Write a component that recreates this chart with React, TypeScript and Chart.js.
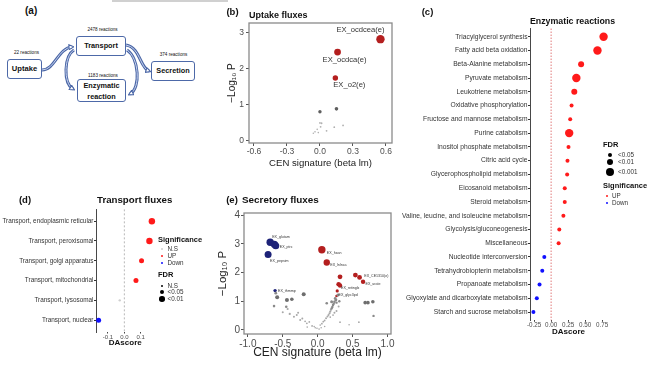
import React, { useEffect, useRef } from "react";
import { Chart, registerables } from "chart.js";
Chart.register(...registerables);

const FONT = '"Liberation Sans", Arial, Helvetica, sans-serif';

// ---------- (b) Uptake fluxes ----------
const uptakeSigNames = ["EX_ocdcea(e)", "EX_ocdca(e)", "EX_o2(e)"];
const uptakeSigBeta = [0.55, 0.16, 0.14];
const uptakeSigLogP = [2.82, 2.46, 1.74];
const uptakeSigSize = [4.2, 3.4, 2.7];
const uptakeNsBeta = [0.0, 0.15, 0.0, 0.015, 0.006, 0.06, 0.13, 0.21, -0.025, -0.045, -0.015, -0.06];
const uptakeNsLogP = [0.8, 0.88, 0.49, 0.48, 0.38, 0.27, 0.37, 0.42, 0.31, 0.24, 0.22, 0.2];
const uptakeNsSize = [1.7, 1.8, 0.9, 0.9, 0.9, 0.9, 0.9, 0.9, 0.8, 0.8, 0.8, 0.8];
const uptakeTicksX = [-0.6, -0.3, 0, 0.3, 0.6];
const uptakeTicksY = [0, 1, 2, 3];

// ---------- (c) Enzymatic reactions ----------
const enzPathways = [
  "Triacylglycerol synthesis",
  "Fatty acid beta oxidation",
  "Beta-Alanine metabolism",
  "Pyruvate metabolism",
  "Leukotriene metabolism",
  "Oxidative phosphorylation",
  "Fructose and mannose metabolism",
  "Purine catabolism",
  "Inositol phosphate metabolism",
  "Citric acid cycle",
  "Glycerophospholipid metabolism",
  "Eicosanoid metabolism",
  "Steroid metabolism",
  "Valine, leucine, and isoleucine metabolism",
  "Glycolysis/gluconeogenesis",
  "Miscellaneous",
  "Nucleotide interconversion",
  "Tetrahydrobiopterin metabolism",
  "Propanoate metabolism",
  "Glyoxylate and dicarboxylate metabolism",
  "Starch and sucrose metabolism",
];
const enzDAscore = [0.77, 0.68, 0.44, 0.37, 0.34, 0.3, 0.28, 0.265, 0.255, 0.24, 0.235, 0.2, 0.2, 0.18, 0.12, 0.11, -0.1, -0.13, -0.17, -0.21, -0.26];
const enzFDR = ["<0.001", "<0.001", "<0.01", "<0.001", "<0.01", "<0.05", "<0.05", "<0.001", "<0.05", "<0.05", "<0.05", "<0.05", "<0.05", "<0.05", "<0.05", "<0.05", "<0.05", "<0.05", "<0.05", "<0.05", "<0.05"];
const enzSignificance = ["UP", "UP", "UP", "UP", "UP", "UP", "UP", "UP", "UP", "UP", "UP", "UP", "UP", "UP", "UP", "UP", "Down", "Down", "Down", "Down", "Down"];
const enzTicksX = [-0.25, 0, 0.25, 0.5, 0.75];
const enzFdrLevels = ["<0.05", "<0.01", "<0.001"];
const enzSigLevels = ["UP", "Down"];

// ---------- (d) Transport fluxes ----------
const transportNames = [
  "Transport, endoplasmic reticular",
  "Transport, peroxisomal",
  "Transport, golgi apparatus",
  "Transport, mitochondrial",
  "Transport, lysosomal",
  "Transport, nuclear",
];
const transportDAscore = [0.168, 0.153, 0.105, 0.071, -0.028, -0.157];
const transportSignificance = ["UP", "UP", "UP", "UP", "N.S", "Down"];
const transportFDR = ["<0.01", "<0.01", "<0.05", "<0.05", "N.S", "<0.05"];
const transportTicksX = [-0.1, 0, 0.1];
const transportSigLevels = ["N.S", "UP", "Down"];
const transportFdrLevels = ["N.S", "<0.05", "<0.01"];

// ---------- (e) Secretory fluxes ----------
const secDownNames = ["EX_glutam", "", "EX_ptrc", "EX_pepsim", "EX_thmmp"];
const secDownBeta = [-0.68, -0.62, -0.6, -0.71, -0.61];
const secDownLogP = [3.05, 2.98, 2.93, 2.63, 1.37];
const secDownSize = [3.7, 3.7, 3.5, 3.5, 1.7];
const secUpNames = ["EX_hxan", "EX_lnlnca", "", "", "EX_CE1310(e)", "EX_urate", "", "EX_retinglx", "", "EX_glyc3pd"];
const secUpBeta = [0.06, 0.13, 0.32, 0.54, 0.6, 0.65, 0.3, 0.32, 0.28, 0.27];
const secUpLogP = [2.79, 2.35, 1.85, 1.91, 1.83, 1.68, 1.59, 1.55, 1.36, 1.18];
const secUpSize = [3.7, 3.2, 2.4, 2.4, 2.4, 2.2, 2.3, 2.2, 1.6, 1.3];
const secNsBeta = [-0.58, -0.44, -0.37, -0.2, 0.68, 0.72, 0.79, -0.625, -0.45, 0.13, 0.2, 0.8, -0.6, 0.26, 0.29, -0.43, -0.4, -0.34, -0.3, -0.25, -0.22, -0.155, -0.12, -0.08, -0.05, -0.035, -0.01, -0.28, -0.5, 0.036, 0.06, 0.08, 0.1, 0.12, 0.14, 0.155, 0.17, 0.18, 0.19, 0.2, 0.21, 0.22, 0.23, 0.24, 0.25, 0.27, 0.24, 0.3, 0.18, 0.22, 0.32, 0.59, 0.45, 0.05, 0.02, 0.1, -0.15, 0.27, 0.31, -0.18];
const secNsLogP = [1.14, 1.04, 1.07, 1.24, 0.95, 0.95, 0.98, 0.83, 0.81, 0.93, 0.98, 0.49, 1.28, 1.05, 1.22, 0.73, 0.56, 0.46, 0.52, 0.35, 0.4, 0.23, 0.28, 0.14, 0.12, 0.08, 0.06, 0.6, 0.62, 0.17, 0.22, 0.29, 0.33, 0.41, 0.47, 0.52, 0.58, 0.64, 0.7, 0.75, 0.8, 0.87, 0.91, 0.98, 1.1, 0.66, 0.6, 0.82, 0.45, 0.52, 0.27, 0.27, 0.18, 0.08, 0.03, 0.12, 0.1, 0.95, 1.0, 0.3];
const secNsSize = [2.0, 2.0, 1.8, 2.0, 1.8, 1.8, 1.8, 1.3, 1.3, 1.3, 1.5, 1.2, 1.4, 1.5, 1.5, 1.1, 1.1, 1.0, 1.0, 1.0, 1.0, 0.9, 0.9, 0.9, 0.8, 0.8, 0.8, 1.0, 1.0, 0.8, 0.9, 0.9, 0.9, 1.0, 1.0, 1.0, 1.1, 1.1, 1.1, 1.2, 1.2, 1.2, 1.2, 1.3, 1.3, 1.0, 1.0, 1.0, 0.9, 0.9, 0.9, 0.9, 0.8, 0.8, 0.8, 0.8, 0.8, 1.2, 1.2, 0.9];
const secTicksX = [-1, -0.5, 0, 0.5, 1];
const secTicksY = [0, 1, 2, 3, 4];

// ---------- styles ----------
const uptakeLabelOffset = [[-20, -9], [7, 8], [14, 7]];
const secDownLabelOffset = [[2, -5.6], [0, 0], [4, 1], [2, 7], [3, 0]];
const secUpLabelOffset = [[5, 3], [3.5, 2.5], [0, 0], [0, 0], [4.7, -1], [2.5, 2.5], [0, 0], [1, 2.4], [0, 0], [2, -1]];
const sigColor: Record<string, string> = { UP: "#ff1a1a", Down: "#1010ff", "N.S": "#cfcfcf" };
const enzRadius: Record<string, number> = { "<0.05": 2, "<0.01": 3, "<0.001": 4.2 };
const trRadius: Record<string, number> = { "N.S": 1.2, "<0.05": 2.5, "<0.01": 3.2 };

const framePlugin = {
  id: "frame",
  afterDraw(chart: any, _a: any, opts: any) {
    if (!opts || !opts.color) return;
    const { left, top, right, bottom } = chart.chartArea;
    const ctx = chart.ctx;
    ctx.save();
    ctx.strokeStyle = opts.color;
    ctx.lineWidth = opts.width || 1;
    ctx.strokeRect(left, top, right - left, bottom - top);
    ctx.restore();
  },
};

const zeroLinePlugin = {
  id: "zeroLine",
  beforeDatasetsDraw(chart: any, _a: any, opts: any) {
    if (!opts || !opts.color) return;
    const x = chart.scales.x.getPixelForValue(0);
    const { top, bottom } = chart.chartArea;
    const ctx = chart.ctx;
    ctx.save();
    ctx.strokeStyle = opts.color;
    ctx.lineWidth = opts.width || 1;
    ctx.setLineDash(opts.dash || [2, 2]);
    ctx.beginPath();
    ctx.moveTo(x, top);
    ctx.lineTo(x, bottom);
    ctx.stroke();
    ctx.restore();
  },
};

const pointLabelPlugin = {
  id: "pointLabels",
  afterDatasetsDraw(chart: any) {
    const ctx = chart.ctx;
    chart.data.datasets.forEach((ds: any, i: number) => {
      const lab = ds.pointLabels;
      if (!lab) return;
      const meta = chart.getDatasetMeta(i);
      ctx.save();
      ctx.font = lab.font;
      ctx.fillStyle = lab.color;
      ctx.textAlign = lab.align;
      ctx.textBaseline = "middle";
      meta.data.forEach((el: any, j: number) => {
        const t = lab.text[j];
        if (!t) return;
        const o = lab.offsets[j];
        ctx.fillText(t, el.x + o[0], el.y + o[1]);
      });
      ctx.restore();
    });
  },
};

const base = (pad: any) => ({
  responsive: false,
  animation: false as const,
  devicePixelRatio: 1,
  layout: { padding: pad },
});

const setTicks = (vals: number[]) => (s: any) => {
  s.ticks = vals.map((v) => ({ value: v }));
};

function volcanoAxes(o: any) {
  return {
    x: {
      type: "linear",
      min: o.xmin,
      max: o.xmax,
      afterFit: (s: any) => { s.height = o.xH; },
      afterBuildTicks: setTicks(o.xt),
      ticks: { callback: (v: any) => Number(v).toFixed(1), font: { family: FONT, size: o.tick }, color: "#4d4d4d", padding: 1, autoSkip: false, maxRotation: 0 },
      grid: { display: true, drawOnChartArea: false, drawTicks: true, tickLength: 3, color: "#555" },
      border: { display: false },
      title: { display: true, text: "CEN signature (beta lm)", font: { family: FONT, size: o.xtitle }, color: "#222", padding: { top: 0, bottom: o.xtpad } },
    },
    y: {
      type: "linear",
      min: o.ymin,
      max: o.ymax,
      afterFit: (s: any) => { s.width = o.yW; },
      afterBuildTicks: setTicks(o.yt),
      ticks: { callback: (v: any) => String(v), font: { family: FONT, size: o.tick }, color: "#4d4d4d", padding: o.ypad, autoSkip: false },
      grid: { display: true, drawOnChartArea: false, drawTicks: true, tickLength: 3, color: "#555" },
      border: { display: false },
      title: { display: true, text: "\u2212Log\u2081\u2080 P", font: { family: FONT, size: o.ytitle }, color: "#222", padding: { top: o.ytpad, bottom: 0 } },
    },
  };
}

function dotAxes(o: any) {
  return {
    x: {
      type: "linear",
      min: o.xmin,
      max: o.xmax,
      afterFit: (s: any) => { s.height = o.xH; },
      afterBuildTicks: setTicks(o.xt),
      ticks: { callback: (v: any) => Number(v).toFixed(o.dec), font: { family: FONT, size: o.xtick }, color: "#4d4d4d", padding: 0, autoSkip: false, maxRotation: 0 },
      grid: { display: true, drawOnChartArea: false, drawTicks: true, tickLength: 1.5, color: "#444" },
      border: { display: false },
      title: { display: true, text: "DAscore", font: { family: FONT, size: 8, weight: "bold" }, color: "#111", padding: { top: 0, bottom: o.xtpad } },
    },
    y: {
      type: "linear",
      reverse: true,
      min: -0.6,
      max: o.cats.length - 0.4,
      afterFit: (s: any) => { s.width = o.yW; },
      afterBuildTicks: setTicks(o.cats.map((_: any, i: number) => i)),
      ticks: { callback: (_v: any, i: number) => o.cats[i], font: { family: FONT, size: o.ytick }, color: "#333", padding: 0.5, autoSkip: false },
      grid: { display: true, drawOnChartArea: false, drawTicks: true, tickLength: 2, color: "#333" },
      border: { display: true, color: "#333", width: 0.9 },
    },
  };
}

const noLegend = { legend: { display: false }, tooltip: { enabled: false } };

const Txt = (p: any) => (
  <div
    style={{
      position: "absolute",
      left: p.x,
      top: p.y,
      fontSize: p.s,
      fontWeight: p.b ? "bold" : "normal",
      color: p.c || "#111",
      whiteSpace: "nowrap",
      lineHeight: 1,
      fontFamily: FONT,
      transform: p.center ? "translate(-50%,-50%)" : "translateY(-50%)",
    }}
  >
    {p.children}
  </div>
);

const Dot = (p: any) => (
  <div
    style={{
      position: "absolute",
      left: p.x - p.r,
      top: p.y - p.r,
      width: p.r * 2,
      height: p.r * 2,
      borderRadius: "50%",
      background: p.c,
    }}
  />
);

const Box = (p: any) => (
  <div
    style={{
      position: "absolute",
      left: p.x,
      top: p.y,
      width: p.w,
      height: p.h,
      border: "1.2px solid #4d69a8",
      borderRadius: 3,
      background: "#fff",
      boxSizing: "border-box",
    }}
  />
);

const arrowPaths = [
  "M42,70 C55,70 58,48 72,47",
  "M74,50 C64,56 63,83 73,89",
  "M126,45 C140,47 140,68 149,71",
  "M127,50 C139,58 141,88 130,94",
];

export default function App() {
  const bRef = useRef<HTMLCanvasElement>(null);
  const cRef = useRef<HTMLCanvasElement>(null);
  const dRef = useRef<HTMLCanvasElement>(null);
  const eRef = useRef<HTMLCanvasElement>(null);

  useEffect(() => {
    const charts: Chart[] = [];

    charts.push(
      new Chart(bRef.current as HTMLCanvasElement, {
        type: "scatter",
        data: {
          datasets: [
            {
              data: uptakeNsBeta.map((x, i) => ({ x, y: uptakeNsLogP[i] })),
              pointRadius: uptakeNsSize,
              pointBackgroundColor: uptakeNsSize.map((r) => (r > 1.5 ? "#5f5f5f" : "#b0b0b0")),
              pointBorderWidth: 0,
              clip: false,
            } as any,
            {
              data: uptakeSigBeta.map((x, i) => ({ x, y: uptakeSigLogP[i] })),
              pointRadius: uptakeSigSize,
              pointBackgroundColor: "#b41f1f",
              pointBorderWidth: 0,
              clip: false,
              pointLabels: { text: uptakeSigNames, offsets: uptakeLabelOffset, font: `7.6px ${FONT}`, color: "#333", align: "center" },
            } as any,
          ],
        },
        options: {
          ...base({ top: 23, right: 6, left: 0, bottom: 0 }),
          plugins: { ...noLegend, frame: { color: "#8a8a8a", width: 1.3 } } as any,
          scales: volcanoAxes({ xmin: -0.645, xmax: 0.655, ymin: -0.07, ymax: 3.27, xt: uptakeTicksX, yt: uptakeTicksY, xH: 29, yW: 25, tick: 8.5, xtitle: 9.6, xtpad: 3, ytitle: 10, ytpad: 2, ypad: 2 }) as any,
        },
        plugins: [framePlugin, pointLabelPlugin],
      } as any)
    );

    charts.push(
      new Chart(cRef.current as HTMLCanvasElement, {
        type: "scatter",
        data: {
          datasets: [
            {
              data: enzDAscore.map((x, i) => ({ x, y: i })),
              pointRadius: enzFDR.map((f) => enzRadius[f]),
              pointBackgroundColor: enzSignificance.map((s) => sigColor[s]),
              pointBorderWidth: 0,
              clip: false,
            } as any,
          ],
        },
        options: {
          ...base({ top: 2.7, right: 5, left: 0, bottom: 0 }),
          plugins: { ...noLegend, zeroLine: { color: "#e07a7a", width: 1, dash: [1.5, 1.5] } } as any,
          scales: dotAxes({ xmin: -0.31, xmax: 0.82, xt: enzTicksX, dec: 2, xH: 19.7, yW: 140, xtick: 6.3, ytick: 6.7, xtpad: 3.2, cats: enzPathways }) as any,
        },
        plugins: [zeroLinePlugin],
      } as any)
    );

    charts.push(
      new Chart(dRef.current as HTMLCanvasElement, {
        type: "scatter",
        data: {
          datasets: [
            {
              data: transportDAscore.map((x, i) => ({ x, y: i })),
              pointRadius: transportFDR.map((f) => trRadius[f]),
              pointBackgroundColor: transportSignificance.map((s) => sigColor[s]),
              pointBorderWidth: 0,
              clip: false,
            } as any,
          ],
        },
        options: {
          ...base({ top: 1.8, right: 5.5, left: 0, bottom: 0 }),
          plugins: { ...noLegend, zeroLine: { color: "#b8b8b8", width: 1, dash: [2, 2] } } as any,
          scales: dotAxes({ xmin: -0.173, xmax: 0.184, xt: transportTicksX, dec: 1, xH: 19, yW: 96, xtick: 6, ytick: 6.4, xtpad: 3.2, cats: transportNames }) as any,
        },
        plugins: [zeroLinePlugin],
      } as any)
    );

    charts.push(
      new Chart(eRef.current as HTMLCanvasElement, {
        type: "scatter",
        data: {
          datasets: [
            {
              data: secNsBeta.map((x, i) => ({ x, y: secNsLogP[i] })),
              pointRadius: secNsSize,
              pointBackgroundColor: secNsSize.map((r) => (r >= 1.8 ? "#6e6e6e" : r >= 1.2 ? "#8a8a8a" : "#a8a8a8")),
              pointBorderWidth: 0,
              clip: false,
            } as any,
            {
              data: secDownBeta.map((x, i) => ({ x, y: secDownLogP[i] })),
              pointRadius: secDownSize,
              pointBackgroundColor: "#1d2278",
              pointBorderWidth: 0,
              clip: false,
              pointLabels: { text: secDownNames, offsets: secDownLabelOffset, font: `3.6px ${FONT}`, color: "#333", align: "left" },
            } as any,
            {
              data: secUpBeta.map((x, i) => ({ x, y: secUpLogP[i] })),
              pointRadius: secUpSize,
              pointBackgroundColor: "#b41f1f",
              pointBorderWidth: 0,
              clip: false,
              pointLabels: { text: secUpNames, offsets: secUpLabelOffset, font: `3.6px ${FONT}`, color: "#333", align: "left" },
            } as any,
          ],
        },
        options: {
          ...base({ top: 8, right: 9, left: 0, bottom: 0 }),
          plugins: { ...noLegend, frame: { color: "#8a8a8a", width: 1.3 } } as any,
          scales: volcanoAxes({ xmin: -1.055, xmax: 1.05, ymin: -0.14, ymax: 4.07, xt: secTicksX, yt: secTicksY, xH: 31, yW: 44, tick: 10, xtitle: 12, xtpad: 5, ytitle: 11.5, ytpad: 16, ypad: 1 }) as any,
        },
        plugins: [framePlugin, pointLabelPlugin],
      } as any)
    );

    return () => charts.forEach((c) => c.destroy());
  }, []);

  const cv = (ref: any, x: number, y: number, w: number, h: number) => (
    <canvas ref={ref} width={w} height={h} style={{ position: "absolute", left: x, top: y, width: w, height: h, display: "block" }} />
  );

  return (
    <div style={{ position: "fixed", left: 0, top: 0, width: 650, height: 365, background: "#fff", overflow: "hidden", fontFamily: FONT }}>
      <div style={{ position: "absolute", left: 112, top: 0, width: 116, height: 1.5, background: "#d0d0d0" }} />

      {/* (a) diagram */}
      <svg width={200} height={110} style={{ position: "absolute", left: 0, top: 0 }}>
        <defs>
          <marker id="ah" viewBox="0 0 10 10" refX="6" refY="5" markerUnits="userSpaceOnUse" markerWidth="6" markerHeight="6" orient="auto">
            <path d="M1,1 L9,5 L1,9 z" fill="#ffffff" stroke="#4a66a6" strokeWidth="1.8" />
          </marker>
        </defs>
        {arrowPaths.map((d, i) => (
          <g key={i}>
            <path d={d} stroke="#4a66a6" strokeWidth={3} fill="none" />
            <path d={d} stroke="#c9d4ef" strokeWidth={1} fill="none" markerEnd="url(#ah)" />
          </g>
        ))}
      </svg>
      <Box x={7} y={59} w={35} h={20} />
      <Box x={76} y={36} w={50} h={20} />
      <Box x={151} y={61} w={44} h={20} />
      <Box x={77} y={79} w={49} h={23} />
      <Txt x={25} y={11} s={10} b>(a)</Txt>
      <Txt x={24.5} y={69} s={7.6} b center>Uptake</Txt>
      <Txt x={101} y={46} s={7.3} b center>Transport</Txt>
      <Txt x={173} y={71} s={7.3} b center>Secretion</Txt>
      <Txt x={101.5} y={85.5} s={7.3} b center>Enzymatic</Txt>
      <Txt x={101.5} y={96.5} s={7.3} b center>reaction</Txt>
      <Txt x={26.5} y={53} s={4.6} center>22 reactions</Txt>
      <Txt x={102.5} y={30} s={4.6} center>2478 reactions</Txt>
      <Txt x={173.5} y={55} s={4.6} center>374 reactions</Txt>
      <Txt x={103} y={76} s={4.6} center>1183 reactions</Txt>

      {/* (b) */}
      {cv(bRef, 224, 0, 174, 172)}
      <Txt x={232.5} y={12} s={9.5} b center>(b)</Txt>
      <Txt x={249} y={15} s={9} b>Uptake fluxes</Txt>

      {/* (c) */}
      {cv(cRef, 390, 24, 222, 316)}
      <Txt x={427.5} y={12} s={9.5} b center>(c)</Txt>
      <Txt x={572.5} y={21} s={8.8} b center>Enzymatic reactions</Txt>
      <Txt x={603} y={145} s={7.5} b>FDR</Txt>
      {enzFdrLevels.map((f, i) => (
        <React.Fragment key={f}>
          <Dot x={610} y={[155, 162, 172][i]} r={enzRadius[f]} c="#000" />
          <Txt x={618} y={[155, 162, 172][i]} s={6.3} c="#333">{f}</Txt>
        </React.Fragment>
      ))}
      <Txt x={603} y={186} s={7.5} b>Significance</Txt>
      {enzSigLevels.map((s, i) => (
        <React.Fragment key={s}>
          <Dot x={607} y={196 + i * 7} r={1} c={sigColor[s]} />
          <Txt x={612} y={196 + i * 7} s={6.3} c="#333">{s}</Txt>
        </React.Fragment>
      ))}

      {/* (d) */}
      {cv(dRef, 0, 205, 160, 146)}
      <Txt x={25} y={200} s={9.5} b center>(d)</Txt>
      <Txt x={97} y={200} s={9.7} b>Transport fluxes</Txt>
      <Txt x={158} y={240} s={7.5} b>Significance</Txt>
      {transportSigLevels.map((s, i) => (
        <React.Fragment key={s}>
          <Dot x={162} y={249 + i * 7} r={1} c={sigColor[s]} />
          <Txt x={167.5} y={249 + i * 7} s={6.3} c="#333">{s}</Txt>
        </React.Fragment>
      ))}
      <Txt x={158} y={275} s={7.5} b>FDR</Txt>
      {transportFdrLevels.map((f, i) => (
        <React.Fragment key={f}>
          <Dot x={162} y={[285.5, 292, 299][i]} r={[1, 2, 2.8][i]} c="#000" />
          <Txt x={167.5} y={[285.5, 292, 299][i]} s={6.3} c="#333">{f}</Txt>
        </React.Fragment>
      ))}

      {/* (e) */}
      {cv(eRef, 200, 205, 200, 160)}
      <Txt x={232} y={200} s={9.5} b center>(e)</Txt>
      <Txt x={242} y={200} s={9.9} b>Secretory fluxes</Txt>
    </div>
  );
}
